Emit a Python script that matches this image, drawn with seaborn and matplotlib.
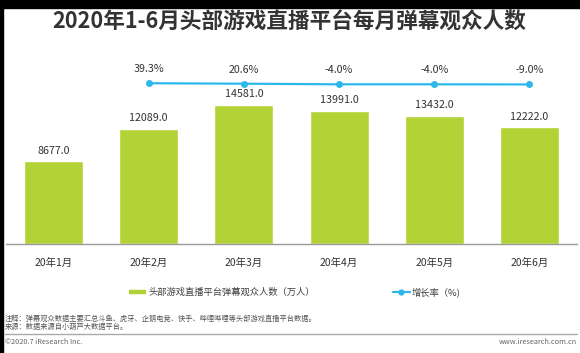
import numpy as np
import pandas as pd
import matplotlib
matplotlib.use("Agg")
import matplotlib.pyplot as plt
from matplotlib.lines import Line2D
from matplotlib.patches import Rectangle
import seaborn as sns

months = ["20年1月", "20年2月", "20年3月", "20年4月", "20年5月", "20年6月"]
viewers = [8677.0, 12089.0, 14581.0, 13991.0, 13432.0, 12222.0]
growth = [np.nan, 39.3, 20.6, -4.0, -4.0, -9.0]
title = "2020年1-6月头部游戏直播平台每月弹幕观众人数"
bar_name = "头部游戏直播平台弹幕观众人数（万人）"
line_name = "增长率（%)"
note = "注释：弹幕观众数据主要汇总斗鱼、虎牙、企鹅电竞、快手、哔哩哔哩等头部游戏直播平台数据。"
source = "来源：数据来源自小葫芦大数据平台。"
copyright_txt = "©2020.7 iResearch Inc."
site = "www.iresearch.com.cn"

sns.set_theme(style="white")
plt.rcParams['font.family'] = ['Noto Sans CJK SC', 'DejaVu Sans']

GREEN = "#B2D235"
BLUE = "#2DB7EA"
TXT = "#333333"

W, H = 580, 353
fig = plt.figure(figsize=(W / 100, H / 100), dpi=100)
fig.patch.set_facecolor("white")

ax = fig.add_axes([6 / W, (H - 244) / H, 571 / W, 174 / H])
df = pd.DataFrame({"month": months, "viewers": viewers, "growth": growth})
sns.barplot(data=df, x="month", y="viewers", color=GREEN, width=0.62,
            saturation=1, ax=ax, zorder=2)
ax.set_xlim(-0.5, 5.5)
ax.set_ylim(0, 174 * 104.9)
ax.set_xlabel("")
ax.set_ylabel("")
ax.set_yticks([])
for s in ["top", "right", "left"]:
    ax.spines[s].set_visible(False)
ax.spines["bottom"].set_color("#9a9a9a")
ax.spines["bottom"].set_linewidth(1.0)
ax.tick_params(axis="x", length=0, pad=10, labelsize=7.5, labelcolor=TXT)
ax.set_facecolor("none")
for c in ax.containers:
    ax.bar_label(c, fmt="%.1f", padding=4, fontsize=7.7, color=TXT)

ax2 = ax.twinx()
idx = np.arange(len(months))
df["pos"] = idx
sns.lineplot(data=df.dropna(), x="pos", y="growth", color=BLUE, marker="o",
             markersize=5, markeredgewidth=0, linewidth=1.6, ax=ax2)
ax2.set_ylim(-6430, 572)
ax2.set_xlim(-0.5, 5.5)
ax2.set_yticks([])
ax2.set_xlabel("")
ax2.set_ylabel("")
for s in ax2.spines.values():
    s.set_visible(False)
for x, g in zip(idx, growth):
    if not np.isnan(g):
        ax2.annotate(f"{g:.1f}%", (x, g), xytext=(0, 6.5), textcoords="offset points",
                     ha="center", va="bottom", fontsize=7.7, color=TXT)

handles = [Line2D([0], [0], color=GREEN, lw=3.2, solid_capstyle="butt"),
           Line2D([0], [0], color=BLUE, lw=1.6, marker="o", markersize=4.5, markeredgewidth=0)]
fig.legend(handles, [bar_name, line_name], loc="center", bbox_to_anchor=(295 / W, 1 - 292 / H),
           ncol=2, frameon=False, fontsize=6.7, handlelength=1.8, handletextpad=0.25,
           columnspacing=8.4, labelcolor="#404040")

fig.text(289 / W, 1 - 22.5 / H, title, ha="center", va="center", fontsize=15.6,
         fontweight="bold", color=TXT)
fig.text(5 / W, 1 - 319 / H, note, ha="left", va="center", fontsize=5.2, color="#555555")
fig.text(5 / W, 1 - 327 / H, source, ha="left", va="center", fontsize=5.2, color="#555555")
fig.add_artist(Line2D([5 / W, 577 / W], [1 - 333.5 / H, 1 - 333.5 / H], color="#aaaaaa", lw=1,
                      transform=fig.transFigure))
fig.text(5 / W, 1 - 342 / H, copyright_txt, ha="left", va="center", fontsize=5.3, color="#666666")
fig.text(577 / W, 1 - 342 / H, site, ha="right", va="center", fontsize=5.3, color="#666666")

# black frame edges (top band and left edge)
fig.add_artist(Rectangle((0, 1 - 8 / H), 1, 8 / H, transform=fig.transFigure,
                         color="black", zorder=10))
fig.add_artist(Rectangle((0, 0), 3 / W, 1, transform=fig.transFigure,
                         color="black", zorder=10))

fig.savefig("out.png", dpi=100)
